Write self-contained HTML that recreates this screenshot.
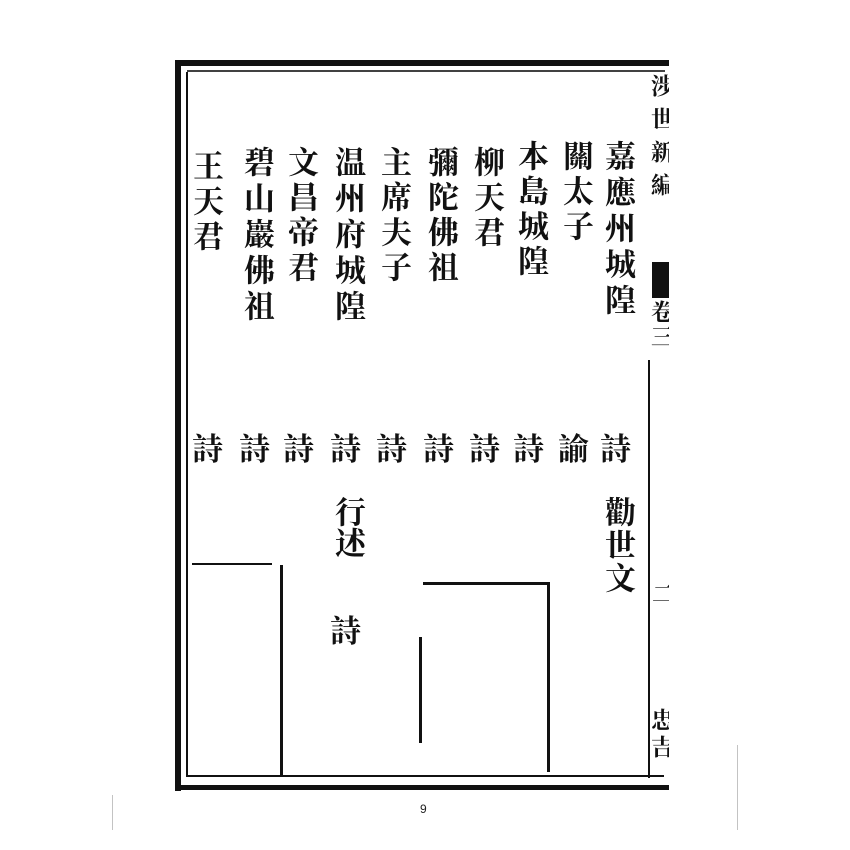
<!DOCTYPE html>
<html><head><meta charset="utf-8"><style>
html,body{margin:0;padding:0;background:#fff;}
body{width:850px;height:850px;position:relative;overflow:hidden;}
.b{position:absolute;background:#111;}
.c{position:absolute;writing-mode:vertical-rl;font-family:"Liberation Serif","Noto Serif CJK SC",serif;font-weight:700;font-size:31px;line-height:34px;color:#111;letter-spacing:4px;white-space:nowrap;}
.s{position:absolute;font-family:"Liberation Serif","Noto Serif CJK SC",serif;font-weight:700;font-size:31px;color:#111;}
</style></head><body>
<div class="b" style="left:175px;top:60px;width:494px;height:6px"></div>
<div class="b" style="left:175px;top:60px;width:6px;height:731px"></div>
<div class="b" style="left:175px;top:785px;width:494px;height:5px"></div>
<div class="b" style="left:187px;top:70px;width:478px;height:2px;opacity:.8"></div>
<div class="b" style="left:186px;top:72px;width:2px;height:705px"></div>
<div class="b" style="left:186px;top:775px;width:478px;height:2px"></div>
<div class="b" style="left:648px;top:360px;width:2px;height:418px"></div>

<div style="position:absolute;left:650px;top:68px;width:19px;height:720px;overflow:hidden">
<div class="c" style="left:-2px;top:6px;font-size:23px;line-height:24px;letter-spacing:10px">涉世新編</div>
<div class="b" style="left:2px;top:194px;width:17px;height:36px"></div>
<div class="c" style="left:-2px;top:232px;font-size:23px;line-height:24px;letter-spacing:2px">卷三</div>
<div class="s" style="left:2px;top:508px;font-size:23px">二</div>
<div class="c" style="left:-2px;top:640px;font-size:23px;line-height:24px;letter-spacing:4px">忠吉</div>
</div>

<div class="c" style="left:600px;top:140px;letter-spacing:5px">嘉應州城隍</div>
<div class="c" style="left:558px;top:140px">關太子</div>
<div class="c" style="left:513px;top:140px">本島城隍</div>
<div class="c" style="left:469px;top:146px">柳天君</div>
<div class="c" style="left:423px;top:146px">彌陀佛祖</div>
<div class="c" style="left:376px;top:146px">主席夫子</div>
<div class="c" style="left:330px;top:146px;letter-spacing:5px">温州府城隍</div>
<div class="c" style="left:283px;top:146px">文昌帝君</div>
<div class="c" style="left:239px;top:146px;letter-spacing:5px">碧山巖佛祖</div>
<div class="c" style="left:188px;top:150px">王天君</div>

<div class="s" style="left:600px;top:424px">詩</div>
<div class="s" style="left:558px;top:424px">諭</div>
<div class="s" style="left:513px;top:424px">詩</div>
<div class="s" style="left:469px;top:424px">詩</div>
<div class="s" style="left:423px;top:424px">詩</div>
<div class="s" style="left:376px;top:424px">詩</div>
<div class="s" style="left:330px;top:424px">詩</div>
<div class="s" style="left:283px;top:424px">詩</div>
<div class="s" style="left:239px;top:424px">詩</div>
<div class="s" style="left:192px;top:424px">詩</div>

<div class="c" style="left:600px;top:496px;letter-spacing:2px">勸世文</div>
<div class="c" style="left:330px;top:496px;letter-spacing:0">行述</div>
<div class="s" style="left:330px;top:606px">詩</div>

<div class="b" style="left:192px;top:563px;width:80px;height:2px"></div>
<div class="b" style="left:280px;top:565px;width:3px;height:210px"></div>
<div class="b" style="left:423px;top:582px;width:126px;height:3px"></div>
<div class="b" style="left:547px;top:582px;width:3px;height:190px"></div>
<div class="b" style="left:419px;top:637px;width:3px;height:106px"></div>

<div style="position:absolute;left:420px;top:802px;font-family:'Liberation Sans',sans-serif;font-size:12px;color:#222">9</div>
<div class="b" style="left:112px;top:795px;width:1px;height:35px;opacity:.25"></div>
<div class="b" style="left:737px;top:745px;width:1px;height:85px;opacity:.25"></div>
</body></html>
